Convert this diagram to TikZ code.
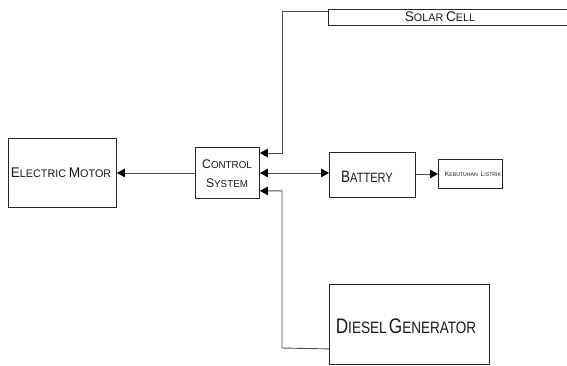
\documentclass[tikz,border=0pt]{standalone}
\usepackage{fontspec}
\setmainfont{Liberation Sans}[FakeStretch=0.82]
\newfontfamily\wfont{Liberation Sans}[FakeStretch=0.98]
\usetikzlibrary{arrows.meta}
\newcommand\fz[2]{{\fontsize{#1}{#1}\selectfont #2}}
\begin{document}
\begin{tikzpicture}[x=1pt,y=-1pt,
  blk/.style={draw=black!85,line width=0.9pt,inner sep=0pt,anchor=north west},
  lbl/.style={text=black!90},
  conn/.style={draw=black!70,line width=0.9pt},
  arr/.style={conn,-{Triangle[length=8pt,width=8.5pt,color=black,fill=black]}},
  darr/.style={conn,{Triangle[length=8pt,width=8.5pt,color=black,fill=black]}-{Triangle[length=8pt,width=8.5pt,color=black,fill=black]}}]
\useasboundingbox (0,0) rectangle (567,365);
\clip (0,0) rectangle (567,365);
\node[blk,minimum width=108pt,minimum height=69pt] (motor) at (8,138) {};
\node[lbl,font=\wfont] (tmotor) at (61,173) {\fz{14}{E}\fz{11}{LECTRIC} \fz{14}{M}\fz{11}{OTOR}};
\node[blk,minimum width=64pt,minimum height=51pt] (ctrl) at (195,147) {};
\node[lbl,align=center,font=\wfont\fontsize{10}{19}\selectfont] (tctrl) at (227,174) {\fz{12.5}{C}ONTROL\\\fz{12.5}{S}YSTEM};
\node[blk,minimum width=86pt,minimum height=45pt] (bat) at (329,152) {};
\node[lbl] (tbat) at (367,177) {\fz{16.5}{B}\fz{13.5}{ATTERY}};
\node[blk,minimum width=64pt,minimum height=29pt] (keb) at (438,159) {};
\node[lbl,inner sep=0pt,font=\wfont] (tkeb) at (473,174) {\fz{6.8}{K}\fz{5.3}{EBUTUHAN} \fz{6.8}{L}\fz{5.3}{ISTRIK}};
\node[blk,minimum width=160pt,minimum height=80pt] (dies) at (329,284) {};
\node[lbl] (tdies) at (406,326) {\fz{21}{D}\fz{16.5}{IESEL} \fz{21}{G}\fz{16.5}{ENERATOR}};
\node[inner sep=0pt,anchor=north west,minimum width=245pt,minimum height=16pt] (sol) at (328,9) {};
\draw[draw=black!85,line width=0.9pt] (sol.north east) -- (sol.north west) -- (sol.south west) -- (sol.south east);
\node[lbl,font=\wfont] (tsol) at (440,17) {\fz{14}{S}\fz{11}{OLAR} \fz{14}{C}\fz{11}{ELL}};
\coordinate (j1) at (282,11);
\coordinate (j2) at (282,348);
\draw[arr] (ctrl.west) -- (motor.east);
\draw[darr] (ctrl.east) -- (bat.west |- ctrl.east);
\draw[arr] (bat.east |- keb.west) -- (keb.west);
\draw[arr] ([yshift=-2pt]sol.north west) -- (j1) |- ([yshift=-6pt]ctrl.north east);
\draw[arr] ([yshift=16pt]dies.south west) -- (j2) |- ([yshift=8pt]ctrl.south east);
\end{tikzpicture}
\end{document}
